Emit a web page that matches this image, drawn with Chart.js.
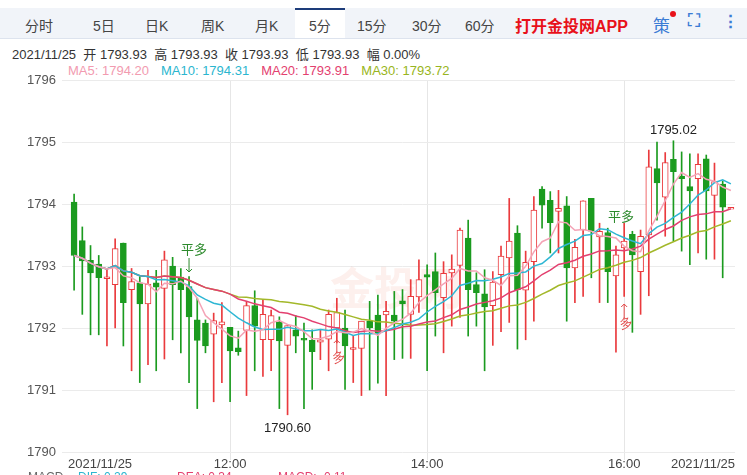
<!DOCTYPE html>
<html><head><meta charset="utf-8">
<script src="https://cdn.jsdelivr.net/npm/chart.js@4/dist/chart.umd.min.js"></script>
<style>
body{margin:0;width:747px;height:475px;overflow:hidden;background:#fff;font-family:"Liberation Sans","Noto Sans CJK SC",sans-serif;position:relative}
#tabs{position:absolute;left:0;top:8px;width:747px;height:30px;background:#f1f4f9;border-bottom:1px solid #dde3ee}
.t{position:absolute;top:7px;font-size:14px;color:#444}
#act{position:absolute;left:295px;top:0;width:50px;height:30px;background:#fff;border-top:2px solid #1d3c7a;box-sizing:border-box}
#hdr{position:absolute;left:12px;top:44px;font-size:13px;color:#333}
#ma{position:absolute;left:68px;top:63px;font-size:13px}
#ma span{margin-right:12px}
canvas{position:absolute;left:0;top:0}
</style></head><body>
<div id="tabs"><div id="act"></div>
<span class="t" style="left:25px">分时</span><span class="t" style="left:93px">5日</span><span class="t" style="left:145px">日K</span><span class="t" style="left:201px">周K</span><span class="t" style="left:255px">月K</span><span class="t" style="left:309px">5分</span><span class="t" style="left:357px">15分</span><span class="t" style="left:412px">30分</span><span class="t" style="left:465px">60分</span>
<span class="t" style="left:515px;top:5px;color:#e8111a;font-weight:bold;font-size:16px">打开金投网APP</span>
<span class="t" style="left:653px;top:4px;color:#3a7bd5;font-size:17px">策</span><span style="position:absolute;left:670px;top:3px;width:6px;height:6px;border-radius:3px;background:#e8111a"></span>
<span class="t" style="left:688px;top:3px;color:#3a7bd5;font-size:17px;font-weight:bold">⛶</span><span class="t" style="left:722px;top:3px;color:#3a7bd5;font-size:17px;font-weight:bold">⋮</span>
</div>
<div id="hdr">2021/11/25&nbsp; 开 1793.93&nbsp; 高 1793.93&nbsp; 收 1793.93&nbsp; 低 1793.93&nbsp; 幅 0.00%</div>
<div id="ma"><span style="color:#f29bb0">MA5: 1794.20</span><span style="color:#2bb6cf">MA10: 1794.31</span><span style="color:#e3406f">MA20: 1793.91</span><span style="color:#98b520">MA30: 1793.72</span></div>
<canvas id="c" width="747" height="475"></canvas>
<script>
const opens=[1794.03,1793.41,1793.09,1793.03,1792.81,1792.70,1793.37,1792.62,1792.73,1792.39,1792.73,1792.64,1793.00,1792.82,1792.67,1792.13,1792.08,1791.90,1792.05,1792.01,1791.68,1791.96,1792.36,1791.81,1791.81,1792.09,1791.72,1791.97,1791.83,1791.80,1791.77,1791.82,1792.00,1792.00,1791.67,1791.67,1792.11,1792.21,1792.21,1792.21,1792.44,1792.22,1792.50,1792.86,1792.91,1792.49,1792.89,1793.01,1793.45,1792.70,1792.55,1792.36,1792.86,1793.13,1793.53,1792.61,1793.07,1794.24,1794.06,1793.88,1793.97,1792.97,1793.58,1794.09,1793.47,1793.54,1792.84,1793.29,1793.51,1792.91,1793.50,1794.57,1794.11,1794.72,1794.45,1794.28,1794.41,1794.73,1794.14,1794.32,1793.93];
const highs=[1794.16,1793.63,1793.33,1793.17,1792.96,1793.44,1793.37,1792.96,1792.83,1792.93,1792.93,1793.24,1793.14,1792.96,1792.83,1792.48,1792.13,1792.24,1792.41,1792.01,1791.95,1792.43,1792.60,1792.46,1792.29,1792.18,1792.04,1792.20,1792.08,1791.97,1791.97,1792.29,1792.48,1792.29,1791.88,1792.11,1792.43,1792.53,1792.43,1792.59,1792.62,1792.78,1793.10,1793.02,1793.21,1793.07,1793.18,1793.61,1793.74,1792.89,1792.94,1792.91,1793.32,1794.09,1793.65,1793.24,1794.12,1794.28,1794.20,1794.22,1794.12,1793.43,1794.05,1794.09,1793.69,1793.61,1793.32,1793.69,1793.56,1793.58,1794.87,1795.00,1794.83,1795.02,1794.84,1794.81,1794.81,1794.79,1794.66,1794.37,1793.93];
const lows=[1792.61,1792.22,1791.89,1791.89,1791.71,1792.00,1791.71,1791.31,1791.12,1791.41,1791.31,1791.50,1791.81,1791.60,1791.12,1790.70,1791.60,1790.81,1791.12,1790.81,1791.56,1790.91,1791.31,1791.22,1791.31,1790.70,1790.60,1791.60,1790.70,1791.01,1791.49,1791.31,1791.76,1791.01,1791.12,1790.91,1791.00,1791.11,1790.91,1791.49,1791.51,1791.51,1792.25,1791.31,1791.87,1791.60,1792.03,1792.17,1791.87,1792.03,1791.31,1791.72,1791.94,1792.09,1791.66,1791.81,1792.11,1793.61,1793.21,1793.21,1792.11,1792.41,1792.51,1792.81,1792.41,1792.41,1791.61,1792.51,1791.93,1792.22,1792.52,1793.74,1793.48,1793.40,1793.24,1793.02,1793.21,1793.11,1793.11,1792.81,1793.93];
const closes=[1793.17,1793.08,1792.89,1792.81,1792.81,1793.28,1792.41,1792.75,1792.39,1792.71,1792.66,1793.10,1792.70,1792.62,1792.18,1791.80,1791.71,1792.12,1792.10,1791.63,1791.62,1792.36,1792.03,1792.22,1792.20,1791.79,1792.04,1791.87,1791.81,1791.62,1791.81,1792.22,1792.25,1791.71,1791.67,1792.11,1792.00,1791.92,1792.27,1792.11,1792.39,1792.51,1792.78,1792.82,1792.57,1792.88,1792.95,1793.58,1792.62,1792.57,1792.34,1792.74,1793.16,1793.40,1792.62,1793.06,1793.90,1793.98,1793.70,1793.93,1792.97,1793.30,1794.05,1793.56,1793.56,1792.91,1793.18,1793.40,1793.18,1793.48,1794.60,1794.34,1794.67,1794.52,1794.41,1794.21,1794.64,1794.21,1794.36,1793.95,1793.93];
const yTicks=[1790,1791,1792,1793,1794,1795,1796];
const timeTicks={19:'12:00',43:'14:00',67:'16:00'};
const dateLabel='2021/11/25';
const maPeriods=[5,10,20,30];
const maColors=['#f4a3b6','#2fb7d4','#e3406f','#a3b82a'];

const labels=opens.map((_,i)=>{const m=10*60+25+i*5;return String(Math.floor(m/60)).padStart(2,'0')+':'+String(m%60).padStart(2,'0');});
const RED='#ea3a3d',GREEN='#1b9b1f';
const up=opens.map((o,i)=>closes[i]>=o);
const bodies=opens.map((o,i)=>{const a=Math.min(o,closes[i]),b=Math.max(o,closes[i]);return b-a<0.03?[(a+b)/2-0.015,(a+b)/2+0.015]:[a,b];});
const wicks=lows.map((l,i)=>[l,highs[i]]);
function ma(n){return closes.map((_,i)=>{const s=closes.slice(Math.max(0,i-n+1),i+1);return s.reduce((a,b)=>a+b,0)/s.length;});}
const lineSets=maPeriods.map((p,k)=>({type:'line',data:ma(p),borderColor:maColors[k],borderWidth:1.5,pointRadius:0,tension:0,order:0}));

const annot={id:'annot',afterDatasetsDraw(ch){const c=ch.ctx,x=ch.scales.x,y=ch.scales.y;c.save();
c.font='13px "Liberation Sans",sans-serif';c.fillStyle='#222';c.textAlign='center';
c.fillText('1795.02',x.getPixelForValue(73),y.getPixelForValue(1795.02)-7);
c.fillText('1790.60',x.getPixelForValue(26),y.getPixelForValue(1790.60)+17);
c.font='13px "Noto Sans CJK SC",sans-serif';
function arrow(ix,y0,y1,col){const px=x.getPixelForValue(ix);c.strokeStyle=col;c.lineWidth=1;c.beginPath();c.moveTo(px,y0);c.lineTo(px,y1);const d=y1>y0?-3:3;c.moveTo(px-3,y1+d);c.lineTo(px,y1);c.lineTo(px+3,y1+d);c.stroke();}
c.fillStyle='#2c8a2c';c.fillText('平多',x.getPixelForValue(14)+5,254);arrow(14,258,272,'#2c8a2c');
c.fillText('平多',x.getPixelForValue(66)+5,221);
c.fillStyle='#e24848';arrow(32,353,340,'#e24848');c.save();c.translate(x.getPixelForValue(32)+3,362);c.rotate(-0.25);c.fillText('多',0,0);c.restore();
arrow(67,318,304,'#e24848');c.save();c.translate(x.getPixelForValue(67)+3,328);c.rotate(-0.25);c.fillText('多',0,0);c.restore();
c.font='13px "Liberation Sans",sans-serif';c.fillStyle='#444';const by=ch.chartArea.bottom+16;
c.textAlign='left';c.fillText(dateLabel,ch.chartArea.left-2,by);
c.textAlign='right';c.fillText(dateLabel,ch.chartArea.right,by);
c.textAlign='center';for(const k in timeTicks)c.fillText(timeTicks[k],x.getPixelForValue(+k),by);
c.font='12px "Liberation Sans",sans-serif';c.textAlign='left';c.fillStyle='#666';c.fillText('MACD',28,481);c.fillStyle='#2bb6cf';c.fillText('DIF: 0.29',78,481);c.fillStyle='#e3406f';c.fillText('DEA: 0.34',177,481);c.fillStyle='#e3406f';c.fillText('MACD: -0.11',278,481);
c.restore();},
beforeDatasetsDraw(ch){const c=ch.ctx;c.save();c.globalAlpha=0.08;c.fillStyle='#e0401a';c.font='bold 44px "Noto Sans CJK SC",sans-serif';c.fillText('金投网',330,305);c.restore();}};

new Chart(document.getElementById('c'),{type:'bar',
data:{labels,datasets:[...lineSets,
{data:bodies,grouped:false,barThickness:6,order:1,backgroundColor:up.map(u=>u?'#fff':GREEN),borderColor:up.map(u=>u?RED:GREEN),borderWidth:1,borderSkipped:false},
{data:wicks,grouped:false,barThickness:1,order:2,backgroundColor:up.map(u=>u?RED:GREEN),borderWidth:0}]},
options:{responsive:false,animation:false,layout:{padding:{top:80,right:12,left:0,bottom:0}},
plugins:{legend:{display:false},tooltip:{enabled:false}},
scales:{x:{offset:true,ticks:{display:false},border:{display:false},grid:{color:ctx=>timeTicks[ctx.index]!==undefined?'#e6e6e6':'rgba(0,0,0,0)',offset:false},afterFit(s){s.height=23;}},
y:{min:1790,max:1796,afterBuildTicks(s){s.ticks=yTicks.map(v=>({value:v}));},border:{display:false},grid:{color:'#ebebeb'},ticks:{color:'#555',font:{size:13,family:'"Liberation Sans"'},padding:6,callback:v=>String(v)},afterFit(s){s.width=70;}}}},
plugins:[annot]});
</script></body></html>
